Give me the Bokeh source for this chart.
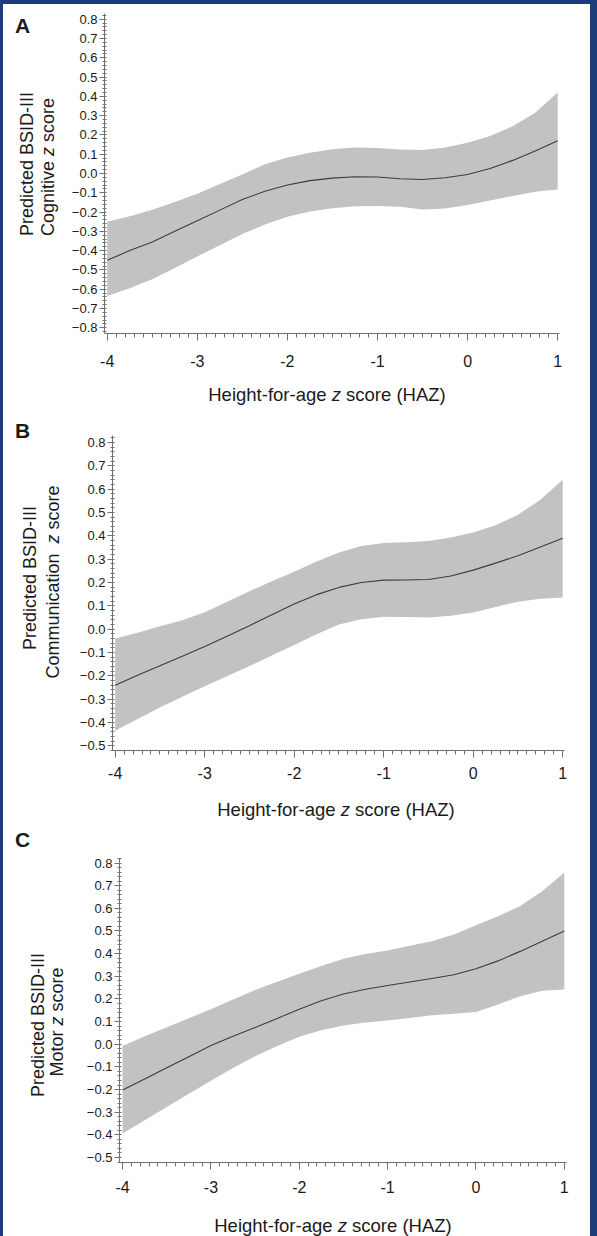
from bokeh.plotting import figure
from bokeh.models import ColumnDataSource, FixedTicker, Range1d, Div
from bokeh.layouts import row, column
from bokeh.embed import file_html
from bokeh.resources import INLINE

try:
    from bokeh.models import GlobalInlineStyleSheet
except Exception:  # pragma: no cover
    GlobalInlineStyleSheet = None

# ---------------- data ----------------
haz = [-4.00, -3.75, -3.50, -3.25, -3.00, -2.75, -2.50, -2.25, -2.00, -1.75, -1.50,
       -1.25, -1.00, -0.75, -0.50, -0.25, 0.00, 0.25, 0.50, 0.75, 1.00]

cog_fit = [-0.450, -0.400, -0.355, -0.300, -0.245, -0.190, -0.135, -0.092, -0.060, -0.037, -0.024,
           -0.017, -0.018, -0.027, -0.031, -0.022, -0.005, 0.026, 0.068, 0.117, 0.170]
cog_upper = [-0.250, -0.222, -0.188, -0.148, -0.105, -0.055, -0.005, 0.048, 0.083, 0.108, 0.126,
             0.135, 0.132, 0.124, 0.122, 0.135, 0.159, 0.195, 0.245, 0.315, 0.420]
cog_lower = [-0.635, -0.595, -0.548, -0.490, -0.430, -0.372, -0.314, -0.265, -0.225, -0.197, -0.180,
             -0.170, -0.168, -0.173, -0.187, -0.182, -0.164, -0.140, -0.117, -0.095, -0.083]

com_fit = [-0.240, -0.198, -0.157, -0.116, -0.074, -0.030, 0.015, 0.062, 0.108, 0.148, 0.179,
           0.200, 0.210, 0.211, 0.213, 0.228, 0.253, 0.283, 0.315, 0.352, 0.390]
com_upper = [-0.040, -0.015, 0.012, 0.038, 0.072, 0.118, 0.163, 0.205, 0.246, 0.290, 0.329,
             0.356, 0.369, 0.372, 0.378, 0.393, 0.414, 0.445, 0.490, 0.555, 0.640]
com_lower = [-0.435, -0.385, -0.336, -0.290, -0.245, -0.202, -0.158, -0.113, -0.068, -0.022, 0.020,
             0.042, 0.053, 0.052, 0.050, 0.058, 0.071, 0.095, 0.118, 0.130, 0.136]

mot_fit = [-0.202, -0.153, -0.104, -0.055, -0.006, 0.035, 0.074, 0.114, 0.155, 0.192, 0.222,
           0.243, 0.259, 0.275, 0.290, 0.307, 0.333, 0.368, 0.410, 0.455, 0.500]
mot_upper = [-0.008, 0.035, 0.075, 0.115, 0.155, 0.198, 0.240, 0.276, 0.311, 0.345, 0.377,
             0.398, 0.414, 0.435, 0.455, 0.485, 0.525, 0.565, 0.610, 0.675, 0.758]
mot_lower = [-0.394, -0.335, -0.277, -0.219, -0.161, -0.105, -0.053, -0.008, 0.033, 0.062, 0.083,
             0.096, 0.105, 0.116, 0.128, 0.135, 0.142, 0.175, 0.212, 0.236, 0.242]

x_ticks = [-4, -3, -2, -1, 0, 1]
x_tick_labels = ["-4", "-3", "-2", "-1", "0", "1"]

y_ticks_a = [-0.8, -0.7, -0.6, -0.5, -0.4, -0.3, -0.2, -0.1, 0.0, 0.1, 0.2, 0.3, 0.4, 0.5, 0.6, 0.7, 0.8]
y_labels_a = ["\u22120.8", "\u22120.7", "\u22120.6", "\u22120.5", "\u22120.4", "\u22120.3", "\u22120.2",
              "\u22120.1", "0.0", "0.1", "0.2", "0.3", "0.4", "0.5", "0.6", "0.7", "0.8"]
y_ticks_bc = [-0.5, -0.4, -0.3, -0.2, -0.1, 0.0, 0.1, 0.2, 0.3, 0.4, 0.5, 0.6, 0.7, 0.8]
y_labels_bc = ["\u22120.5", "\u22120.4", "\u22120.3", "\u22120.2", "\u22120.1", "0.0", "0.1", "0.2",
               "0.3", "0.4", "0.5", "0.6", "0.7", "0.8"]

panel_letters = ["A", "B", "C"]
ylab_line1 = "Predicted BSID-III"
ylab_line2 = ["Cognitive <i>z</i> score", "Communication  <i>z</i> score", "Motor <i>z</i> score"]
xlab = "Height-for-age <i>z</i> score (HAZ)"

# ---------------- styling ----------------
FONT = "Liberation Sans"
TXT = "#1a1a1a"
AXC = "#707070"
NAVY = "#1b3d7a"
W = 587
LAB = 18
XLAB = 18.5
MBL = 38
MBR = 24


def base_off(size):
    # distance from the centre of a line-height:1 box to the alphabetic baseline
    return (0.905 - 0.0585 - 0.5) * size


def span_h(html, cx, base_y, size):
    cy = base_y - base_off(size)
    return (f'<span style="position:absolute;left:{cx:.1f}px;top:{cy:.1f}px;'
            f'transform:translate(-50%,-50%);white-space:pre;line-height:1;'
            f"font-family:'{FONT}';font-size:{size}px;color:{TXT};\">{html}</span>")


def span_v(html, cy, base_x, size):
    cx = base_x - base_off(size)
    return (f'<span style="position:absolute;left:{cx:.1f}px;top:{cy:.1f}px;'
            f'transform:translate(-50%,-50%) rotate(-90deg);white-space:pre;line-height:1;'
            f"font-family:'{FONT}';font-size:{size}px;color:{TXT};\">{html}</span>")


def span_letter(txt, left, base_y, size):
    top = base_y - (0.905 - 0.0585) * size
    return (f'<span style="position:absolute;left:{left:.1f}px;top:{top:.1f}px;line-height:1;'
            f"font-family:'{FONT}';font-size:{size}px;font-weight:bold;color:{TXT};\">{txt}</span>")


def box(w, h, inner, overflow="visible", bg="white"):
    return Div(text=f'<div style="position:relative;width:{w}px;height:{h}px;overflow:{overflow};">{inner}</div>',
               width=w, height=h, margin=0, styles={"overflow": overflow, "background-color": bg})


def make_fig(width, height, mb_top, mb_bottom, xr, yr, y_ticks, y_labels, fit, upper, lower, x_standoff):
    p = figure(width=width, height=height, output_backend="svg", toolbar_location=None,
               x_range=Range1d(*xr), y_range=Range1d(*yr),
               min_border_left=MBL, min_border_right=MBR,
               min_border_top=mb_top, min_border_bottom=mb_bottom, margin=0)
    p.grid.visible = False
    p.outline_line_color = None
    p.background_fill_color = "white"
    p.border_fill_color = "white"

    src = ColumnDataSource(dict(haz=haz, fit=fit, upper=upper, lower=lower))
    p.varea(x="haz", y1="lower", y2="upper", source=src, fill_color="#c2c2c2", fill_alpha=1.0)
    p.line(x="haz", y="fit", source=src, line_color="#3c3c3c", line_width=1.1)

    minor_x = [round(-4.0 + 0.1 * i, 2) for i in range(51)]
    p.xaxis.ticker = FixedTicker(ticks=x_ticks, minor_ticks=minor_x)
    p.xaxis.major_label_overrides = {t: s for t, s in zip(x_ticks, x_tick_labels)}
    p.xaxis.major_label_text_font = FONT
    p.xaxis.major_label_text_font_size = "16px"
    p.xaxis.major_label_text_color = TXT
    p.xaxis.major_label_standoff = x_standoff
    p.xaxis.major_tick_out = 7
    p.xaxis.major_tick_in = 0
    p.xaxis.minor_tick_out = 4
    p.xaxis.minor_tick_in = 0

    lo = min(y_ticks)
    minor_y = [round(lo - 0.02 + 0.02 * i, 2) for i in range(int(round((0.84 - lo) / 0.02)) + 1)]
    p.yaxis.ticker = FixedTicker(ticks=y_ticks, minor_ticks=minor_y)
    p.yaxis.major_label_overrides = {t: s for t, s in zip(y_ticks, y_labels)}
    p.yaxis.major_label_text_font = FONT
    p.yaxis.major_label_text_font_size = "13px"
    p.yaxis.major_label_text_color = TXT
    p.yaxis.major_label_standoff = 2
    p.yaxis.major_tick_out = 5
    p.yaxis.major_tick_in = 0
    p.yaxis.minor_tick_out = 2
    p.yaxis.minor_tick_in = 2

    for ax in (p.xaxis[0], p.yaxis[0]):
        ax.axis_line_color = AXC
        ax.major_tick_line_color = AXC
        ax.minor_tick_line_color = AXC
        ax.axis_label = None
    return p


def make_panel(top_page, total_h, frame_left, frame_right, fig_h, mb_top, mb_bottom, xr, yr, y_ticks, y_labels,
               fit, upper, lower, x_standoff, letter, letter_base, l1_cy, l1_bx, l2_html, l2_cy, l2_bx,
               xl_cx, xl_base, bottom_overflow="visible"):
    div_w = frame_left - 3 - MBL
    fig_w = frame_right + MBR - (3 + div_w)
    right_w = W - div_w - fig_w
    fig = make_fig(fig_w, fig_h, mb_top, mb_bottom, xr, yr, y_ticks, y_labels, fit, upper, lower, x_standoff)
    inner = (span_letter(letter, 15 - 3, letter_base - top_page, 21)
             + span_v(ylab_line1, l1_cy - top_page, l1_bx - 3, LAB)
             + span_v(l2_html, l2_cy - top_page, l2_bx - 3, LAB))
    left_div = box(div_w, fig_h, inner)
    parts = [left_div, fig]
    if right_w > 0:
        parts.append(box(right_w, fig_h, ""))
    top_row = row(*parts, spacing=0, margin=0, width=W, height=fig_h)
    bot_h = total_h - fig_h
    bot_div = box(W, bot_h, span_h(xlab, xl_cx - 3, xl_base - (top_page + fig_h), XLAB), bottom_overflow)
    return column(top_row, bot_div, spacing=0, margin=0, width=W, height=total_h)


panel_a = make_panel(4, 408, 104, 559, 375, 9, 46, (-4.03, 1.02), (-0.83, 0.83), y_ticks_a, y_labels_a,
                     cog_fit, cog_upper, cog_lower, 14, panel_letters[0], 33, 164, 33, ylab_line2[0], 167, 54,
                     327, 401)
panel_b = make_panel(412, 410, 112, 564, 380, 23, 42, (-4.03, 1.02), (-0.52, 0.83), y_ticks_bc, y_labels_bc,
                     com_fit, com_upper, com_lower, 9, panel_letters[1], 438, 578, 36, ylab_line2[1], 582, 59,
                     336, 816)
panel_c = make_panel(822, 414, 119, 566, 384, 36, 44, (-4.035, 1.025), (-0.522, 0.82), y_ticks_bc, y_labels_bc,
                     mot_fit, mot_upper, mot_lower, 11, panel_letters[2], 847, 1025, 44, ylab_line2[2], 1022, 63,
                     333, 1232, "hidden")

col = column(box(W, 4, "", bg=NAVY), panel_a, panel_b, panel_c, spacing=0, margin=0, width=W, height=1236,
             styles={"background-color": "white"})
p = row(box(3, 1236, "", bg=NAVY), col, spacing=0, margin=0, width=597, height=1236,
        styles={"background-color": NAVY, "overflow": "hidden"})

if GlobalInlineStyleSheet is not None:
    p.stylesheets = [GlobalInlineStyleSheet(
        css="html, body { margin: 0 !important; padding: 0 !important; overflow: hidden !important; "
            "background-color: " + NAVY + "; }")]

open("out.html", "w").write(file_html(p, INLINE))
